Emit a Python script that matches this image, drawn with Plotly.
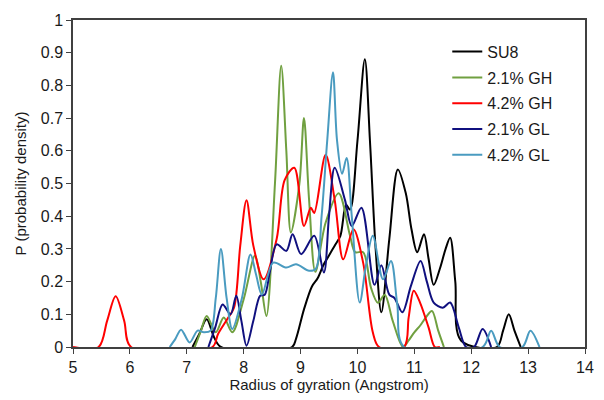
import plotly.graph_objects as go

# ---- data ----
su8_x = [7.1, 7.22, 7.35, 7.48, 7.6, 8.85, 8.92, 9.06, 9.2, 9.3, 9.4, 9.5, 9.6, 9.7, 9.8, 9.87,
         10.0, 10.13, 10.22, 10.32, 10.42, 10.56, 10.71, 10.85, 10.95, 11.05, 11.17, 11.25, 11.34,
         11.45, 11.55, 11.63, 11.72, 11.82, 12.45, 12.56, 12.66, 12.76, 12.87]
su8_y = [0, 0.04, 0.085, 0.03, 0, 0, 0.025, 0.115, 0.185, 0.21, 0.25, 0.28, 0.31, 0.34, 0.435, 0.42,
         0.63, 0.88, 0.63, 0.3, 0.106, 0.33, 0.543, 0.47, 0.36, 0.29, 0.345, 0.27, 0.19,
         0.24, 0.3, 0.334, 0.2, 0.02, 0, 0.05, 0.10, 0.05, 0]

gh21_x = [7.14, 7.25, 7.35, 7.51, 7.65, 7.8, 8.0, 8.2, 8.3, 8.4, 8.55, 8.66, 8.75, 8.83, 8.98,
          9.06, 9.15, 9.26, 9.44, 9.67, 9.87, 9.96, 10.1, 10.24, 10.36, 10.48, 10.62, 10.8, 10.9,
          11.0, 11.1, 11.2, 11.31, 11.42, 11.52]
gh21_y = [0, 0.05, 0.095, 0.045, 0.09, 0.045, 0.146, 0.28, 0.2, 0.095, 0.5, 0.86, 0.6, 0.35, 0.5,
          0.70, 0.45, 0.23, 0.38, 0.47, 0.34, 0.29, 0.29, 0.18, 0.135, 0.16, 0.08, 0.0, 0.02,
          0.045, 0.065, 0.09, 0.11, 0.05, 0]

gh42_x = [5.0, 5.45, 5.6, 5.75, 5.9, 6.02, 7.45, 7.55, 7.71, 7.83, 7.94, 8.05, 8.17, 8.35, 8.58,
          8.72, 8.89, 9.06, 9.18, 9.24, 9.44, 9.6, 9.75, 9.93, 10.1, 10.27, 10.38, 10.82, 10.9,
          10.99, 11.1, 11.25, 11.36, 11.45]
gh42_y = [0, 0, 0.08, 0.155, 0.08, 0, 0, 0.04, 0.085, 0.12, 0.31, 0.449, 0.31, 0.207, 0.33,
          0.51, 0.548, 0.37, 0.426, 0.41, 0.588, 0.45, 0.268, 0.36, 0.258, 0.045, 0, 0, 0.09,
          0.172, 0.136, 0.06, 0, 0]

gl21_x = [7.38, 7.5, 7.63, 7.77, 7.87, 7.96, 8.05, 8.17, 8.29, 8.37, 8.46, 8.58, 8.75, 8.86, 9.01,
          9.24, 9.41, 9.5, 9.6, 9.78, 9.9, 10.07, 10.3, 10.42, 10.56, 10.65, 10.79, 10.94, 11.11,
          11.22, 11.34, 11.5, 11.63, 11.78, 11.91, 12.05, 12.2, 12.35]
gl21_y = [0, 0.06, 0.13, 0.10, 0.157, 0.08, 0.004, 0.08, 0.157, 0.16, 0.23, 0.314, 0.294, 0.345, 0.284,
          0.34, 0.228, 0.4, 0.548, 0.45, 0.37, 0.426, 0.19, 0.25, 0.16, 0.15, 0.106, 0.187, 0.263,
          0.2, 0.136, 0.12, 0.136, 0.06, 0, 0, 0.055, 0]

gl42_x = [6.7, 6.8, 6.9, 7.05, 7.19, 7.3, 7.42, 7.51, 7.6, 7.7, 7.8, 7.97, 8.12, 8.22, 8.32, 8.52,
          8.75, 8.92, 9.15, 9.27, 9.37, 9.47, 9.57, 9.64, 9.73, 9.81, 9.9, 10.04, 10.15, 10.27,
          10.45, 10.59, 10.7, 10.82, 12.2, 12.35, 12.5, 12.9, 13.04, 13.2]
gl42_y = [0, 0.025, 0.053, 0.014, 0.05, 0.045, 0.05, 0.15, 0.30, 0.15, 0.055, 0.15, 0.283, 0.22, 0.16, 0.258,
          0.243, 0.253, 0.233, 0.24, 0.4, 0.634, 0.84, 0.634, 0.53, 0.578, 0.40, 0.136, 0.25, 0.34,
          0.207, 0.263, 0.13, 0, 0, 0.05, 0, 0, 0.05, 0]

series = [
    ("SU8", su8_x, su8_y, "#000000"),
    ("2.1% GH", gh21_x, gh21_y, "#70A040"),
    ("4.2% GH", gh42_x, gh42_y, "#FF0000"),
    ("2.1% GL", gl21_x, gl21_y, "#10107F"),
    ("4.2% GL", gl42_x, gl42_y, "#4A9BC0"),
]

x_ticks = [5, 6, 7, 8, 9, 10, 11, 12, 13, 14]
y_ticks = [0, 0.1, 0.2, 0.3, 0.4, 0.5, 0.6, 0.7, 0.8, 0.9, 1]

fig = go.Figure()
for name, xs, ys, col in series:
    fig.add_trace(go.Scatter(
        x=xs, y=ys, name=name, mode="lines", legendgroup=name,
        line=dict(color=col, width=2, shape="spline", smoothing=0.9),
    ))

font = "Liberation Sans, Arial, sans-serif"
txt = "#1a1a1a"
axis_common = dict(
    showline=True, linecolor="#404040", linewidth=1.5, mirror=True,
    ticks="outside", ticklen=5, tickcolor="#404040", tickwidth=1,
    showgrid=False, zeroline=False,
    tickfont=dict(family=font, size=16, color=txt),
)
fig.update_layout(
    width=604, height=400,
    margin=dict(l=73, r=10, t=20, b=52),
    paper_bgcolor="white", plot_bgcolor="white",
    font=dict(family=font, size=15, color=txt),
    xaxis=dict(range=[5, 14], tickvals=x_ticks,
               title=dict(text="Radius of gyration (Angstrom)", font=dict(size=15), standoff=4),
               **axis_common),
    yaxis=dict(range=[0, 1], tickvals=y_ticks,
               title=dict(text="P (probability density)", font=dict(size=15), standoff=11),
               **axis_common),
    legend=dict(x=0.731, y=0.955, xanchor="left", yanchor="top",
                font=dict(family=font, size=16, color=txt),
                tracegroupgap=2, bgcolor="rgba(0,0,0,0)", itemwidth=30),
    showlegend=True,
)

fig.write_html("out.html")
